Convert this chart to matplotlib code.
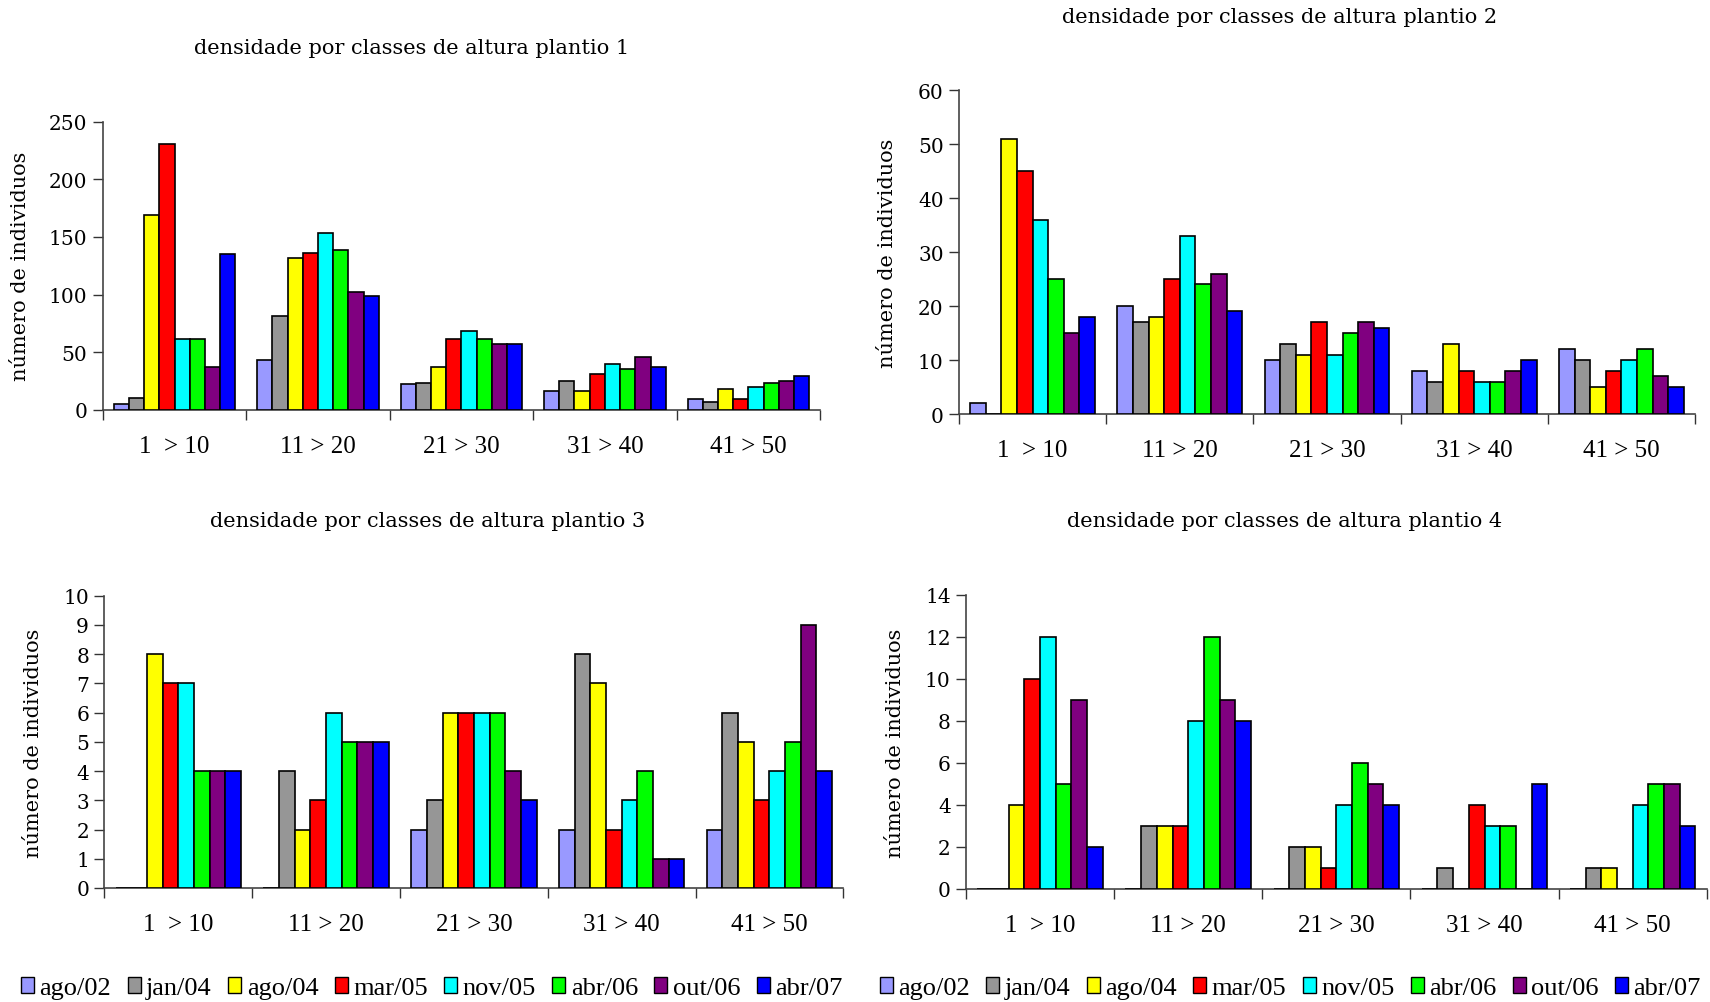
import numpy as np
import matplotlib
matplotlib.use('Agg')
import matplotlib.pyplot as plt
from matplotlib.patches import Patch

classes = ['1  > 10', '11 > 20', '21 > 30', '31 > 40', '41 > 50']
series = ['ago/02', 'jan/04', 'ago/04', 'mar/05', 'nov/05', 'abr/06', 'out/06', 'abr/07']
colors = ['#9999FF', '#969696', '#FFFF00', '#FF0000', '#00FFFF', '#00FF00', '#800080', '#0000FF']

# one row per height class, one column per survey date
plantio1 = [[5, 10, 169, 231, 61, 61, 37, 135],
            [43, 81, 132, 136, 153, 139, 102, 99],
            [22, 23, 37, 61, 68, 61, 57, 57],
            [16, 25, 16, 31, 40, 35, 46, 37],
            [9, 7, 18, 9, 20, 23, 25, 29]]
plantio2 = [[2, 0, 51, 45, 36, 25, 15, 18],
            [20, 17, 18, 25, 33, 24, 26, 19],
            [10, 13, 11, 17, 11, 15, 17, 16],
            [8, 6, 13, 8, 6, 6, 8, 10],
            [12, 10, 5, 8, 10, 12, 7, 5]]
plantio3 = [[0, 0, 8, 7, 7, 4, 4, 4],
            [0, 4, 2, 3, 6, 5, 5, 5],
            [2, 3, 6, 6, 6, 6, 4, 3],
            [2, 8, 7, 2, 3, 4, 1, 1],
            [2, 6, 5, 3, 4, 5, 9, 4]]
plantio4 = [[0, 0, 4, 10, 12, 5, 9, 2],
            [0, 3, 3, 3, 8, 12, 9, 8],
            [0, 2, 2, 1, 4, 6, 5, 4],
            [0, 1, 0, 4, 3, 3, 0, 5],
            [0, 1, 1, 0, 4, 5, 5, 3]]

fig = plt.figure(figsize=(17.1, 10.03), dpi=100)

panels = [
    (plantio1, 'densidade por classes de altura plantio 1', [0.0601, 0.5905, 0.4195, 0.2871], 250, 50, -0.101, (0.2409, 0.952)),
    (plantio2, 'densidade por classes de altura plantio 2', [0.5608, 0.5862, 0.4304, 0.3230], 60, 10, -0.084, (0.748, 0.983)),
    (plantio3, 'densidade por classes de altura plantio 3', [0.0610, 0.1137, 0.4322, 0.2914], 10, 1, -0.083, (0.2503, 0.480)),
    (plantio4, 'densidade por classes de altura plantio 4', [0.5649, 0.1127, 0.4332, 0.2931], 14, 2, -0.082, (0.751, 0.480)),
]

serif = 'DejaVu Serif'
times = 'Liberation Serif'
bw = 0.106

for data, title, pos, ymax, step, labx, tpos in panels:
    ax = fig.add_axes(pos)
    vals = np.array(data)
    x = np.arange(len(classes))
    for j in range(len(series)):
        ax.bar(x + 0.5 + (j - 3.5) * bw, vals[:, j], width=bw,
               color=colors[j], edgecolor='black', linewidth=1.2, zorder=3)
    ax.set_xlim(0, len(classes))
    ax.set_ylim(0, ymax)
    ax.set_yticks(np.arange(0, ymax + step / 2, step))
    ax.set_xticks(np.arange(len(classes) + 1))
    ax.set_xticklabels([])
    ax.set_xticks(x + 0.5, minor=True)
    ax.set_xticklabels(classes, minor=True, fontsize=18, family=times)
    ax.tick_params(axis='x', which='minor', length=0, pad=18)
    ax.tick_params(axis='x', which='major', length=7, color='#333333', width=1)
    ax.tick_params(axis='y', length=7, color='#333333', width=1, labelsize=14.5, pad=4)
    for lab in ax.get_yticklabels():
        lab.set_family(serif)
    for s in ['top', 'right']:
        ax.spines[s].set_visible(False)
    for s in ['left', 'bottom']:
        ax.spines[s].set_color('#444444')
        ax.spines[s].set_linewidth(1.2)
    ax.set_ylabel('número de individuos', fontsize=15, family=serif)
    ax.yaxis.set_label_coords(labx, 0.5)
    fig.text(tpos[0], tpos[1], title, ha='center', va='center', fontsize=15, family=serif)

handles = [Patch(facecolor=c, edgecolor='black', linewidth=1.0) for c in colors]
for cx in [0.2525, 0.7545]:
    fig.legend(handles, series, loc='center', bbox_to_anchor=(cx, 0.014), ncol=8,
               frameon=False, prop={'family': times, 'size': 19},
               handlelength=0.5, handleheight=0.6, handletextpad=0.2, columnspacing=0.62)

plt.savefig('out.png')
